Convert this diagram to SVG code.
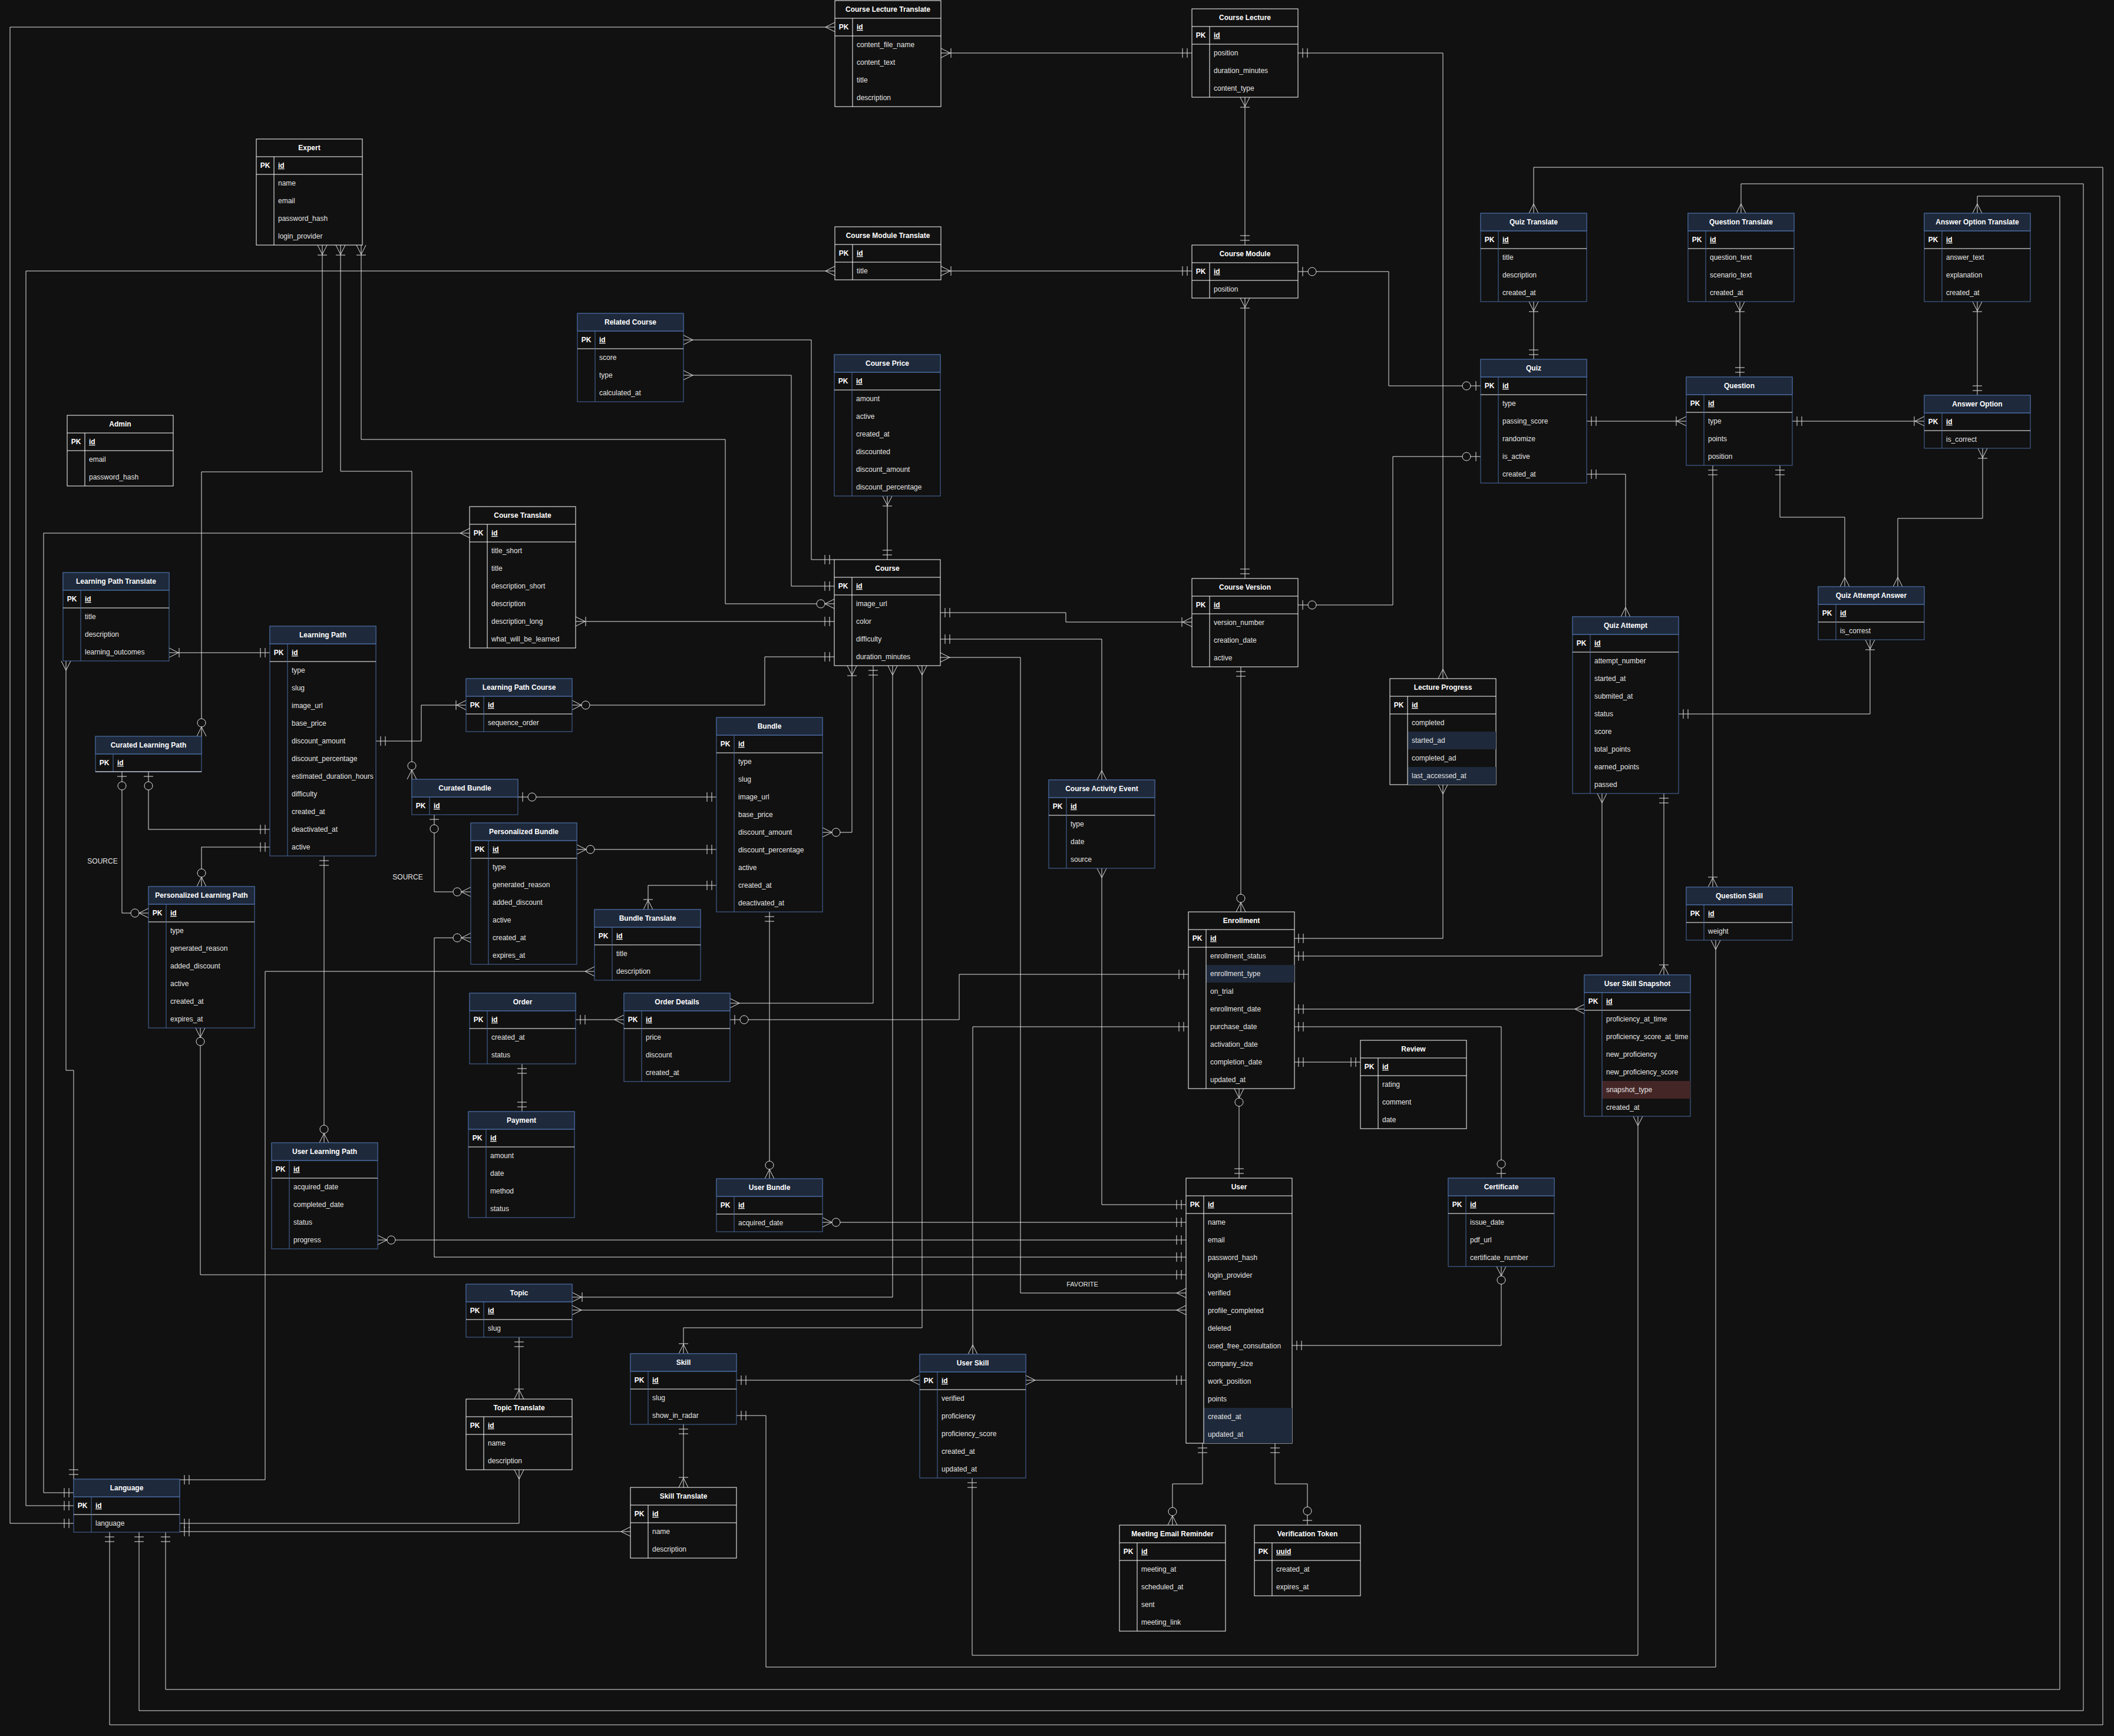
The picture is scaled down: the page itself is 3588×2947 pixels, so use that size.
<svg xmlns="http://www.w3.org/2000/svg" width="3588" height="2947" viewBox="0 0 3588 2947">
<style>
text{font-family:"Liberation Sans",Arial,Helvetica,sans-serif;font-size:12px}
.box{fill:#111111;stroke:#ffffff;stroke-width:1}
.b .box{stroke:#4a6ca3}
.hd{fill:none;stroke:none}
.b .hd{fill:#1e293b;stroke:#4a6ca3;stroke-width:1}
.hs,.ps,.cd{stroke:#ffffff;stroke-width:1}
.b .hs,.b .cd{stroke:#4a6ca3}
.t{font-weight:bold;fill:#ffffff;text-anchor:middle}
.pk{font-weight:bold;fill:#ffffff;text-anchor:middle}
.id{font-weight:bold;fill:#ffffff;text-decoration:underline}
.f{fill:#e4e4e4}
.hl{fill:#1e293b}
.hr{fill:#442626}
#connectors path{fill:none;stroke:#e2e2e2;stroke-width:1}
.mk{fill:none;stroke:#e2e2e2;stroke-width:1}
.mc{fill:#111111;stroke:#e2e2e2;stroke-width:1}
.lbl{fill:#e4e4e4;text-anchor:middle}
</style>
<defs>
<marker id="one" markerUnits="userSpaceOnUse" viewBox="-40 -20 50 40" markerWidth="50" markerHeight="40" refX="0" refY="0" orient="auto-start-reverse" overflow="visible"><path class="mk" d="M-8,-8V8M-16,-8V8"/></marker>
<marker id="many" markerUnits="userSpaceOnUse" viewBox="-40 -20 50 40" markerWidth="50" markerHeight="40" refX="0" refY="0" orient="auto-start-reverse" overflow="visible"><path class="mk" d="M0,-8L-16,0L0,8"/></marker>
<marker id="om" markerUnits="userSpaceOnUse" viewBox="-40 -20 50 40" markerWidth="50" markerHeight="40" refX="0" refY="0" orient="auto-start-reverse" overflow="visible"><path class="mk" d="M0,-8L-16,0L0,8M-17,-8V8"/></marker>
<marker id="zm" markerUnits="userSpaceOnUse" viewBox="-40 -20 50 40" markerWidth="50" markerHeight="40" refX="0" refY="0" orient="auto-start-reverse" overflow="visible"><path class="mk" d="M0,-8L-16,0L0,8"/><circle class="mc" cx="-23" cy="0" r="7"/></marker>
<marker id="zo" markerUnits="userSpaceOnUse" viewBox="-40 -20 50 40" markerWidth="50" markerHeight="40" refX="0" refY="0" orient="auto-start-reverse" overflow="visible"><path class="mk" d="M-8,-8V8"/><circle class="mc" cx="-24" cy="0" r="7"/></marker>
</defs>
<rect x="0" y="0" width="3588" height="2947" fill="#111111"/>

<g id="connectors">
<path d="M1597,90H2023" marker-start="url(#om)" marker-end="url(#one)"/>
<path d="M2113,165V416" marker-start="url(#om)" marker-end="url(#one)"/>
<path d="M1597,460H2023" marker-start="url(#om)" marker-end="url(#one)"/>
<path d="M2203,90H2449V1152" marker-start="url(#one)" marker-end="url(#many)"/>
<path d="M2203,461H2357V655H2513" marker-start="url(#zo)" marker-end="url(#zo)"/>
<path d="M2203,1027H2364V775H2513" marker-start="url(#zo)" marker-end="url(#zo)"/>
<path d="M2113,506V982" marker-start="url(#om)" marker-end="url(#one)"/>
<path d="M2106,1132V1548" marker-start="url(#one)" marker-end="url(#zm)"/>
<path d="M1596,1040H1809V1056H2023" marker-start="url(#one)" marker-end="url(#om)"/>
<path d="M1596,1085H1870V1324" marker-start="url(#one)" marker-end="url(#many)"/>
<path d="M1596,1116H1732V2195H2013" marker-start="url(#many)" marker-end="url(#many)"/>
<path d="M1870,1474V2045H2013" marker-start="url(#many)" marker-end="url(#one)"/>
<path d="M1506,842V950" marker-start="url(#om)" marker-end="url(#one)"/>
<path d="M1160,577H1377V950H1416" marker-start="url(#many)" marker-end="url(#one)"/>
<path d="M1160,637H1343V995H1416" marker-start="url(#many)" marker-end="url(#one)"/>
<path d="M613,416V746H1231V1025H1416" marker-start="url(#om)" marker-end="url(#zm)"/>
<path d="M578,416V800H699V1323" marker-start="url(#om)" marker-end="url(#zm)"/>
<path d="M547,416V801H342V1250" marker-start="url(#om)" marker-end="url(#zm)"/>
<path d="M125,2586H17V46H1417" marker-start="url(#one)" marker-end="url(#many)"/>
<path d="M125,2556H44V460H1417" marker-start="url(#one)" marker-end="url(#many)"/>
<path d="M125,2534H74V905H797" marker-start="url(#one)" marker-end="url(#many)"/>
<path d="M112,1122V1817H125V2511" marker-start="url(#many)" marker-end="url(#one)"/>
<path d="M305,2512H450V1649H1009" marker-start="url(#one)" marker-end="url(#many)"/>
<path d="M305,2586H881V2495" marker-start="url(#one)" marker-end="url(#many)"/>
<path d="M305,2600H1070" marker-start="url(#one)" marker-end="url(#many)"/>
<path d="M281,2601V2868H3496V333H3356V362" marker-start="url(#one)" marker-end="url(#many)"/>
<path d="M236,2601V2904H3536V312H2955V362" marker-start="url(#one)" marker-end="url(#many)"/>
<path d="M186,2601V2928H3569V284H2603V362" marker-start="url(#one)" marker-end="url(#many)"/>
<path d="M287,1108H458" marker-start="url(#om)" marker-end="url(#one)"/>
<path d="M638,1258H715V1197H791" marker-start="url(#one)" marker-end="url(#om)"/>
<path d="M971,1197H1298V1115H1416" marker-start="url(#zm)" marker-end="url(#one)"/>
<path d="M977,1055H1416" marker-start="url(#om)" marker-end="url(#one)"/>
<path d="M252,1310V1408H458" marker-start="url(#zo)" marker-end="url(#one)"/>
<path d="M207,1310V1550H252" marker-start="url(#zo)" marker-end="url(#zm)"/>
<path d="M458,1438H342V1505" marker-start="url(#one)" marker-end="url(#zm)"/>
<path d="M550,1453V1940" marker-start="url(#one)" marker-end="url(#zm)"/>
<path d="M641,2105H2013" marker-start="url(#zm)" marker-end="url(#one)"/>
<path d="M799,1592H737V2134H2013" marker-start="url(#zm)" marker-end="url(#one)"/>
<path d="M737,1383V1514H799" marker-start="url(#zo)" marker-end="url(#zm)"/>
<path d="M340,1745V2164H2013" marker-start="url(#zm)" marker-end="url(#one)"/>
<path d="M1306,1548V2001" marker-start="url(#one)" marker-end="url(#zm)"/>
<path d="M1396,2075H2013" marker-start="url(#zm)" marker-end="url(#one)"/>
<path d="M879,1353H1216" marker-start="url(#zo)" marker-end="url(#one)"/>
<path d="M979,1442H1216" marker-start="url(#zm)" marker-end="url(#one)"/>
<path d="M1100,1544V1503H1216" marker-start="url(#om)" marker-end="url(#one)"/>
<path d="M1396,1413H1446V1130" marker-start="url(#zm)" marker-end="url(#om)"/>
<path d="M1482,1130V1703H1239" marker-start="url(#one)" marker-end="url(#many)"/>
<path d="M1515,1130V2202H971" marker-start="url(#many)" marker-end="url(#om)"/>
<path d="M1565,1130V2254H1160V2298" marker-start="url(#many)" marker-end="url(#om)"/>
<path d="M971,2224H2013" marker-start="url(#many)" marker-end="url(#many)"/>
<path d="M1239,1731H1628V1654H2017" marker-start="url(#zo)" marker-end="url(#one)"/>
<path d="M2017,1743H1651V2299" marker-start="url(#one)" marker-end="url(#many)"/>
<path d="M977,1731H1059" marker-start="url(#one)" marker-end="url(#many)"/>
<path d="M886,1806V1887" marker-start="url(#one)" marker-end="url(#one)"/>
<path d="M881,2270V2375" marker-start="url(#one)" marker-end="url(#om)"/>
<path d="M1160,2418V2525" marker-start="url(#one)" marker-end="url(#om)"/>
<path d="M1250,2343H1561" marker-start="url(#one)" marker-end="url(#many)"/>
<path d="M1741,2343H2013" marker-start="url(#many)" marker-end="url(#one)"/>
<path d="M1250,2403H1300V2830H2912V1596" marker-start="url(#one)" marker-end="url(#many)"/>
<path d="M1650,2509V2810H2780V1895" marker-start="url(#one)" marker-end="url(#many)"/>
<path d="M2907,790V1506" marker-start="url(#one)" marker-end="url(#om)"/>
<path d="M3021,790V878H3131V996" marker-start="url(#one)" marker-end="url(#many)"/>
<path d="M3365,761V880H3221V996" marker-start="url(#om)" marker-end="url(#many)"/>
<path d="M3174,1086V1212H2849" marker-start="url(#om)" marker-end="url(#one)"/>
<path d="M2693,715H2862" marker-start="url(#one)" marker-end="url(#om)"/>
<path d="M3042,715H3266" marker-start="url(#one)" marker-end="url(#om)"/>
<path d="M2603,512V610" marker-start="url(#om)" marker-end="url(#one)"/>
<path d="M2953,512V640" marker-start="url(#om)" marker-end="url(#one)"/>
<path d="M3356,512V671" marker-start="url(#om)" marker-end="url(#one)"/>
<path d="M2693,805H2759V1047" marker-start="url(#one)" marker-end="url(#many)"/>
<path d="M2196,1593H2449V1332" marker-start="url(#one)" marker-end="url(#many)"/>
<path d="M2196,1623H2719V1347" marker-start="url(#one)" marker-end="url(#many)"/>
<path d="M2196,1713H2689" marker-start="url(#one)" marker-end="url(#many)"/>
<path d="M2196,1743H2548V2000" marker-start="url(#one)" marker-end="url(#zo)"/>
<path d="M2196,1803H2309" marker-start="url(#one)" marker-end="url(#one)"/>
<path d="M2103,1848V2000" marker-start="url(#zm)" marker-end="url(#one)"/>
<path d="M2824,1347V1655" marker-start="url(#one)" marker-end="url(#om)"/>
<path d="M2193,2284H2548V2150" marker-start="url(#one)" marker-end="url(#zm)"/>
<path d="M2041,2450V2519H1990V2589" marker-start="url(#one)" marker-end="url(#zm)"/>
<path d="M2164,2450V2519H2219V2589" marker-start="url(#one)" marker-end="url(#zo)"/>
<text class="lbl" x="174" y="1466">SOURCE</text>
<text class="lbl" x="692" y="1493">SOURCE</text>
<text class="lbl" x="1837" y="2184" style="font-size:11px">FAVORITE</text>
</g>

<g id="course-lecture-translate" class="w" transform="translate(1417,1)">
<rect class="box" width="180" height="180"/><rect class="hd" width="180" height="30"/>
<line class="hs" x1="0" y1="30" x2="180" y2="30"/><line class="ps" x1="0" y1="60" x2="180" y2="60"/><line class="cd" x1="30" y1="30" x2="30" y2="180"/>
<text class="t" x="90" y="19">Course Lecture Translate</text><text class="pk" x="15" y="49">PK</text><text class="id" x="37" y="49">id</text>
<text class="f" x="37" y="79">content_file_name</text><text class="f" x="37" y="109">content_text</text><text class="f" x="37" y="139">title</text><text class="f" x="37" y="169">description</text>
</g>

<g id="course-lecture" class="w" transform="translate(2023,15)">
<rect class="box" width="180" height="150"/><rect class="hd" width="180" height="30"/>
<line class="hs" x1="0" y1="30" x2="180" y2="30"/><line class="ps" x1="0" y1="60" x2="180" y2="60"/><line class="cd" x1="30" y1="30" x2="30" y2="150"/>
<text class="t" x="90" y="19">Course Lecture</text><text class="pk" x="15" y="49">PK</text><text class="id" x="37" y="49">id</text>
<text class="f" x="37" y="79">position</text><text class="f" x="37" y="109">duration_minutes</text><text class="f" x="37" y="139">content_type</text>
</g>

<g id="course-module-translate" class="w" transform="translate(1417,385)">
<rect class="box" width="180" height="90"/><rect class="hd" width="180" height="30"/>
<line class="hs" x1="0" y1="30" x2="180" y2="30"/><line class="ps" x1="0" y1="60" x2="180" y2="60"/><line class="cd" x1="30" y1="30" x2="30" y2="90"/>
<text class="t" x="90" y="19">Course Module Translate</text><text class="pk" x="15" y="49">PK</text><text class="id" x="37" y="49">id</text>
<text class="f" x="37" y="79">title</text>
</g>

<g id="course-module" class="w" transform="translate(2023,416)">
<rect class="box" width="180" height="90"/><rect class="hd" width="180" height="30"/>
<line class="hs" x1="0" y1="30" x2="180" y2="30"/><line class="ps" x1="0" y1="60" x2="180" y2="60"/><line class="cd" x1="30" y1="30" x2="30" y2="90"/>
<text class="t" x="90" y="19">Course Module</text><text class="pk" x="15" y="49">PK</text><text class="id" x="37" y="49">id</text>
<text class="f" x="37" y="79">position</text>
</g>

<g id="expert" class="w" transform="translate(435,236)">
<rect class="box" width="180" height="180"/><rect class="hd" width="180" height="30"/>
<line class="hs" x1="0" y1="30" x2="180" y2="30"/><line class="ps" x1="0" y1="60" x2="180" y2="60"/><line class="cd" x1="30" y1="30" x2="30" y2="180"/>
<text class="t" x="90" y="19">Expert</text><text class="pk" x="15" y="49">PK</text><text class="id" x="37" y="49">id</text>
<text class="f" x="37" y="79">name</text><text class="f" x="37" y="109">email</text><text class="f" x="37" y="139">password_hash</text><text class="f" x="37" y="169">login_provider</text>
</g>

<g id="admin" class="w" transform="translate(114,705)">
<rect class="box" width="180" height="120"/><rect class="hd" width="180" height="30"/>
<line class="hs" x1="0" y1="30" x2="180" y2="30"/><line class="ps" x1="0" y1="60" x2="180" y2="60"/><line class="cd" x1="30" y1="30" x2="30" y2="120"/>
<text class="t" x="90" y="19">Admin</text><text class="pk" x="15" y="49">PK</text><text class="id" x="37" y="49">id</text>
<text class="f" x="37" y="79">email</text><text class="f" x="37" y="109">password_hash</text>
</g>

<g id="related-course" class="b" transform="translate(980,532)">
<rect class="box" width="180" height="150"/><rect class="hd" width="180" height="30"/>
<line class="hs" x1="0" y1="30" x2="180" y2="30"/><line class="ps" x1="0" y1="60" x2="180" y2="60"/><line class="cd" x1="30" y1="30" x2="30" y2="150"/>
<text class="t" x="90" y="19">Related Course</text><text class="pk" x="15" y="49">PK</text><text class="id" x="37" y="49">id</text>
<text class="f" x="37" y="79">score</text><text class="f" x="37" y="109">type</text><text class="f" x="37" y="139">calculated_at</text>
</g>

<g id="course-price" class="b" transform="translate(1416,602)">
<rect class="box" width="180" height="240"/><rect class="hd" width="180" height="30"/>
<line class="hs" x1="0" y1="30" x2="180" y2="30"/><line class="ps" x1="0" y1="60" x2="180" y2="60"/><line class="cd" x1="30" y1="30" x2="30" y2="240"/>
<text class="t" x="90" y="19">Course Price</text><text class="pk" x="15" y="49">PK</text><text class="id" x="37" y="49">id</text>
<text class="f" x="37" y="79">amount</text><text class="f" x="37" y="109">active</text><text class="f" x="37" y="139">created_at</text><text class="f" x="37" y="169">discounted</text><text class="f" x="37" y="199">discount_amount</text><text class="f" x="37" y="229">discount_percentage</text>
</g>

<g id="course" class="w" transform="translate(1416,950)">
<rect class="box" width="180" height="180"/><rect class="hd" width="180" height="30"/>
<line class="hs" x1="0" y1="30" x2="180" y2="30"/><line class="ps" x1="0" y1="60" x2="180" y2="60"/><line class="cd" x1="30" y1="30" x2="30" y2="180"/>
<text class="t" x="90" y="19">Course</text><text class="pk" x="15" y="49">PK</text><text class="id" x="37" y="49">id</text>
<text class="f" x="37" y="79">image_url</text><text class="f" x="37" y="109">color</text><text class="f" x="37" y="139">difficulty</text><text class="f" x="37" y="169">duration_minutes</text>
</g>

<g id="course-translate" class="w" transform="translate(797,860)">
<rect class="box" width="180" height="240"/><rect class="hd" width="180" height="30"/>
<line class="hs" x1="0" y1="30" x2="180" y2="30"/><line class="ps" x1="0" y1="60" x2="180" y2="60"/><line class="cd" x1="30" y1="30" x2="30" y2="240"/>
<text class="t" x="90" y="19">Course Translate</text><text class="pk" x="15" y="49">PK</text><text class="id" x="37" y="49">id</text>
<text class="f" x="37" y="79">title_short</text><text class="f" x="37" y="109">title</text><text class="f" x="37" y="139">description_short</text><text class="f" x="37" y="169">description</text><text class="f" x="37" y="199">description_long</text><text class="f" x="37" y="229">what_will_be_learned</text>
</g>

<g id="learning-path-translate" class="b" transform="translate(107,972)">
<rect class="box" width="180" height="150"/><rect class="hd" width="180" height="30"/>
<line class="hs" x1="0" y1="30" x2="180" y2="30"/><line class="ps" x1="0" y1="60" x2="180" y2="60"/><line class="cd" x1="30" y1="30" x2="30" y2="150"/>
<text class="t" x="90" y="19">Learning Path Translate</text><text class="pk" x="15" y="49">PK</text><text class="id" x="37" y="49">id</text>
<text class="f" x="37" y="79">title</text><text class="f" x="37" y="109">description</text><text class="f" x="37" y="139">learning_outcomes</text>
</g>

<g id="learning-path" class="b" transform="translate(458,1063)">
<rect class="box" width="180" height="390"/><rect class="hd" width="180" height="30"/>
<line class="hs" x1="0" y1="30" x2="180" y2="30"/><line class="ps" x1="0" y1="60" x2="180" y2="60"/><line class="cd" x1="30" y1="30" x2="30" y2="390"/>
<text class="t" x="90" y="19">Learning Path</text><text class="pk" x="15" y="49">PK</text><text class="id" x="37" y="49">id</text>
<text class="f" x="37" y="79">type</text><text class="f" x="37" y="109">slug</text><text class="f" x="37" y="139">image_url</text><text class="f" x="37" y="169">base_price</text><text class="f" x="37" y="199">discount_amount</text><text class="f" x="37" y="229">discount_percentage</text><text class="f" x="37" y="259">estimated_duration_hours</text><text class="f" x="37" y="289">difficulty</text><text class="f" x="37" y="319">created_at</text><text class="f" x="37" y="349">deactivated_at</text><text class="f" x="37" y="379">active</text>
</g>

<g id="learning-path-course" class="b" transform="translate(791,1152)">
<rect class="box" width="180" height="90"/><rect class="hd" width="180" height="30"/>
<line class="hs" x1="0" y1="30" x2="180" y2="30"/><line class="ps" x1="0" y1="60" x2="180" y2="60"/><line class="cd" x1="30" y1="30" x2="30" y2="90"/>
<text class="t" x="90" y="19">Learning Path Course</text><text class="pk" x="15" y="49">PK</text><text class="id" x="37" y="49">id</text>
<text class="f" x="37" y="79">sequence_order</text>
</g>

<g id="curated-learning-path" class="b" transform="translate(162,1250)">
<rect class="box" width="180" height="60"/><rect class="hd" width="180" height="30"/>
<line class="hs" x1="0" y1="30" x2="180" y2="30"/><line class="cd" x1="30" y1="30" x2="30" y2="60"/><line class="ps" x1="0" y1="60" x2="180" y2="60"/>
<text class="t" x="90" y="19">Curated Learning Path</text><text class="pk" x="15" y="49">PK</text><text class="id" x="37" y="49">id</text>
</g>

<g id="curated-bundle" class="b" transform="translate(699,1323)">
<rect class="box" width="180" height="60"/><rect class="hd" width="180" height="30"/>
<line class="hs" x1="0" y1="30" x2="180" y2="30"/><line class="cd" x1="30" y1="30" x2="30" y2="60"/>
<text class="t" x="90" y="19">Curated Bundle</text><text class="pk" x="15" y="49">PK</text><text class="id" x="37" y="49">id</text>
</g>

<g id="personalized-bundle" class="b" transform="translate(799,1397)">
<rect class="box" width="180" height="240"/><rect class="hd" width="180" height="30"/>
<line class="hs" x1="0" y1="30" x2="180" y2="30"/><line class="ps" x1="0" y1="60" x2="180" y2="60"/><line class="cd" x1="30" y1="30" x2="30" y2="240"/>
<text class="t" x="90" y="19">Personalized Bundle</text><text class="pk" x="15" y="49">PK</text><text class="id" x="37" y="49">id</text>
<text class="f" x="37" y="79">type</text><text class="f" x="37" y="109">generated_reason</text><text class="f" x="37" y="139">added_discount</text><text class="f" x="37" y="169">active</text><text class="f" x="37" y="199">created_at</text><text class="f" x="37" y="229">expires_at</text>
</g>

<g id="personalized-learning-path" class="b" transform="translate(252,1505)">
<rect class="box" width="180" height="240"/><rect class="hd" width="180" height="30"/>
<line class="hs" x1="0" y1="30" x2="180" y2="30"/><line class="ps" x1="0" y1="60" x2="180" y2="60"/><line class="cd" x1="30" y1="30" x2="30" y2="240"/>
<text class="t" x="90" y="19">Personalized Learning Path</text><text class="pk" x="15" y="49">PK</text><text class="id" x="37" y="49">id</text>
<text class="f" x="37" y="79">type</text><text class="f" x="37" y="109">generated_reason</text><text class="f" x="37" y="139">added_discount</text><text class="f" x="37" y="169">active</text><text class="f" x="37" y="199">created_at</text><text class="f" x="37" y="229">expires_at</text>
</g>

<g id="bundle" class="b" transform="translate(1216,1218)">
<rect class="box" width="180" height="330"/><rect class="hd" width="180" height="30"/>
<line class="hs" x1="0" y1="30" x2="180" y2="30"/><line class="ps" x1="0" y1="60" x2="180" y2="60"/><line class="cd" x1="30" y1="30" x2="30" y2="330"/>
<text class="t" x="90" y="19">Bundle</text><text class="pk" x="15" y="49">PK</text><text class="id" x="37" y="49">id</text>
<text class="f" x="37" y="79">type</text><text class="f" x="37" y="109">slug</text><text class="f" x="37" y="139">image_url</text><text class="f" x="37" y="169">base_price</text><text class="f" x="37" y="199">discount_amount</text><text class="f" x="37" y="229">discount_percentage</text><text class="f" x="37" y="259">active</text><text class="f" x="37" y="289">created_at</text><text class="f" x="37" y="319">deactivated_at</text>
</g>

<g id="bundle-translate" class="b" transform="translate(1009,1544)">
<rect class="box" width="180" height="120"/><rect class="hd" width="180" height="30"/>
<line class="hs" x1="0" y1="30" x2="180" y2="30"/><line class="ps" x1="0" y1="60" x2="180" y2="60"/><line class="cd" x1="30" y1="30" x2="30" y2="120"/>
<text class="t" x="90" y="19">Bundle Translate</text><text class="pk" x="15" y="49">PK</text><text class="id" x="37" y="49">id</text>
<text class="f" x="37" y="79">title</text><text class="f" x="37" y="109">description</text>
</g>

<g id="order" class="b" transform="translate(797,1686)">
<rect class="box" width="180" height="120"/><rect class="hd" width="180" height="30"/>
<line class="hs" x1="0" y1="30" x2="180" y2="30"/><line class="ps" x1="0" y1="60" x2="180" y2="60"/><line class="cd" x1="30" y1="30" x2="30" y2="120"/>
<text class="t" x="90" y="19">Order</text><text class="pk" x="15" y="49">PK</text><text class="id" x="37" y="49">id</text>
<text class="f" x="37" y="79">created_at</text><text class="f" x="37" y="109">status</text>
</g>

<g id="order-details" class="b" transform="translate(1059,1686)">
<rect class="box" width="180" height="150"/><rect class="hd" width="180" height="30"/>
<line class="hs" x1="0" y1="30" x2="180" y2="30"/><line class="ps" x1="0" y1="60" x2="180" y2="60"/><line class="cd" x1="30" y1="30" x2="30" y2="150"/>
<text class="t" x="90" y="19">Order Details</text><text class="pk" x="15" y="49">PK</text><text class="id" x="37" y="49">id</text>
<text class="f" x="37" y="79">price</text><text class="f" x="37" y="109">discount</text><text class="f" x="37" y="139">created_at</text>
</g>

<g id="payment" class="b" transform="translate(795,1887)">
<rect class="box" width="180" height="180"/><rect class="hd" width="180" height="30"/>
<line class="hs" x1="0" y1="30" x2="180" y2="30"/><line class="ps" x1="0" y1="60" x2="180" y2="60"/><line class="cd" x1="30" y1="30" x2="30" y2="180"/>
<text class="t" x="90" y="19">Payment</text><text class="pk" x="15" y="49">PK</text><text class="id" x="37" y="49">id</text>
<text class="f" x="37" y="79">amount</text><text class="f" x="37" y="109">date</text><text class="f" x="37" y="139">method</text><text class="f" x="37" y="169">status</text>
</g>

<g id="user-learning-path" class="b" transform="translate(461,1940)">
<rect class="box" width="180" height="180"/><rect class="hd" width="180" height="30"/>
<line class="hs" x1="0" y1="30" x2="180" y2="30"/><line class="ps" x1="0" y1="60" x2="180" y2="60"/><line class="cd" x1="30" y1="30" x2="30" y2="180"/>
<text class="t" x="90" y="19">User Learning Path</text><text class="pk" x="15" y="49">PK</text><text class="id" x="37" y="49">id</text>
<text class="f" x="37" y="79">acquired_date</text><text class="f" x="37" y="109">completed_date</text><text class="f" x="37" y="139">status</text><text class="f" x="37" y="169">progress</text>
</g>

<g id="topic" class="b" transform="translate(791,2180)">
<rect class="box" width="180" height="90"/><rect class="hd" width="180" height="30"/>
<line class="hs" x1="0" y1="30" x2="180" y2="30"/><line class="ps" x1="0" y1="60" x2="180" y2="60"/><line class="cd" x1="30" y1="30" x2="30" y2="90"/>
<text class="t" x="90" y="19">Topic</text><text class="pk" x="15" y="49">PK</text><text class="id" x="37" y="49">id</text>
<text class="f" x="37" y="79">slug</text>
</g>

<g id="topic-translate" class="w" transform="translate(791,2375)">
<rect class="box" width="180" height="120"/><rect class="hd" width="180" height="30"/>
<line class="hs" x1="0" y1="30" x2="180" y2="30"/><line class="ps" x1="0" y1="60" x2="180" y2="60"/><line class="cd" x1="30" y1="30" x2="30" y2="120"/>
<text class="t" x="90" y="19">Topic Translate</text><text class="pk" x="15" y="49">PK</text><text class="id" x="37" y="49">id</text>
<text class="f" x="37" y="79">name</text><text class="f" x="37" y="109">description</text>
</g>

<g id="skill" class="b" transform="translate(1070,2298)">
<rect class="box" width="180" height="120"/><rect class="hd" width="180" height="30"/>
<line class="hs" x1="0" y1="30" x2="180" y2="30"/><line class="ps" x1="0" y1="60" x2="180" y2="60"/><line class="cd" x1="30" y1="30" x2="30" y2="120"/>
<text class="t" x="90" y="19">Skill</text><text class="pk" x="15" y="49">PK</text><text class="id" x="37" y="49">id</text>
<text class="f" x="37" y="79">slug</text><text class="f" x="37" y="109">show_in_radar</text>
</g>

<g id="skill-translate" class="w" transform="translate(1070,2525)">
<rect class="box" width="180" height="120"/><rect class="hd" width="180" height="30"/>
<line class="hs" x1="0" y1="30" x2="180" y2="30"/><line class="ps" x1="0" y1="60" x2="180" y2="60"/><line class="cd" x1="30" y1="30" x2="30" y2="120"/>
<text class="t" x="90" y="19">Skill Translate</text><text class="pk" x="15" y="49">PK</text><text class="id" x="37" y="49">id</text>
<text class="f" x="37" y="79">name</text><text class="f" x="37" y="109">description</text>
</g>

<g id="language" class="b" transform="translate(125,2511)">
<rect class="box" width="180" height="90"/><rect class="hd" width="180" height="30"/>
<line class="hs" x1="0" y1="30" x2="180" y2="30"/><line class="ps" x1="0" y1="60" x2="180" y2="60"/><line class="cd" x1="30" y1="30" x2="30" y2="90"/>
<text class="t" x="90" y="19">Language</text><text class="pk" x="15" y="49">PK</text><text class="id" x="37" y="49">id</text>
<text class="f" x="37" y="79">language</text>
</g>

<g id="course-version" class="w" transform="translate(2023,982)">
<rect class="box" width="180" height="150"/><rect class="hd" width="180" height="30"/>
<line class="hs" x1="0" y1="30" x2="180" y2="30"/><line class="ps" x1="0" y1="60" x2="180" y2="60"/><line class="cd" x1="30" y1="30" x2="30" y2="150"/>
<text class="t" x="90" y="19">Course Version</text><text class="pk" x="15" y="49">PK</text><text class="id" x="37" y="49">id</text>
<text class="f" x="37" y="79">version_number</text><text class="f" x="37" y="109">creation_date</text><text class="f" x="37" y="139">active</text>
</g>

<g id="course-activity-event" class="b" transform="translate(1780,1324)">
<rect class="box" width="180" height="150"/><rect class="hd" width="180" height="30"/>
<line class="hs" x1="0" y1="30" x2="180" y2="30"/><line class="ps" x1="0" y1="60" x2="180" y2="60"/><line class="cd" x1="30" y1="30" x2="30" y2="150"/>
<text class="t" x="90" y="19">Course Activity Event</text><text class="pk" x="15" y="49">PK</text><text class="id" x="37" y="49">id</text>
<text class="f" x="37" y="79">type</text><text class="f" x="37" y="109">date</text><text class="f" x="37" y="139">source</text>
</g>

<g id="enrollment" class="w" transform="translate(2017,1548)">
<rect class="box" width="180" height="300"/><rect class="hd" width="180" height="30"/>
<rect class="hl" x="30" y="90" width="150" height="30"/>
<line class="hs" x1="0" y1="30" x2="180" y2="30"/><line class="ps" x1="0" y1="60" x2="180" y2="60"/><line class="cd" x1="30" y1="30" x2="30" y2="300"/>
<text class="t" x="90" y="19">Enrollment</text><text class="pk" x="15" y="49">PK</text><text class="id" x="37" y="49">id</text>
<text class="f" x="37" y="79">enrollment_status</text><text class="f" x="37" y="109">enrollment_type</text><text class="f" x="37" y="139">on_trial</text><text class="f" x="37" y="169">enrollment_date</text><text class="f" x="37" y="199">purchase_date</text><text class="f" x="37" y="229">activation_date</text><text class="f" x="37" y="259">completion_date</text><text class="f" x="37" y="289">updated_at</text>
</g>

<g id="user" class="w" transform="translate(2013,2000)">
<rect class="box" width="180" height="450"/><rect class="hd" width="180" height="30"/>
<rect class="hl" x="30" y="390" width="150" height="60"/>
<line class="hs" x1="0" y1="30" x2="180" y2="30"/><line class="ps" x1="0" y1="60" x2="180" y2="60"/><line class="cd" x1="30" y1="30" x2="30" y2="450"/>
<text class="t" x="90" y="19">User</text><text class="pk" x="15" y="49">PK</text><text class="id" x="37" y="49">id</text>
<text class="f" x="37" y="79">name</text><text class="f" x="37" y="109">email</text><text class="f" x="37" y="139">password_hash</text><text class="f" x="37" y="169">login_provider</text><text class="f" x="37" y="199">verified</text><text class="f" x="37" y="229">profile_completed</text><text class="f" x="37" y="259">deleted</text><text class="f" x="37" y="289">used_free_consultation</text><text class="f" x="37" y="319">company_size</text><text class="f" x="37" y="349">work_position</text><text class="f" x="37" y="379">points</text><text class="f" x="37" y="409">created_at</text><text class="f" x="37" y="439">updated_at</text>
</g>

<g id="user-bundle" class="b" transform="translate(1216,2001)">
<rect class="box" width="180" height="90"/><rect class="hd" width="180" height="30"/>
<line class="hs" x1="0" y1="30" x2="180" y2="30"/><line class="ps" x1="0" y1="60" x2="180" y2="60"/><line class="cd" x1="30" y1="30" x2="30" y2="90"/>
<text class="t" x="90" y="19">User Bundle</text><text class="pk" x="15" y="49">PK</text><text class="id" x="37" y="49">id</text>
<text class="f" x="37" y="79">acquired_date</text>
</g>

<g id="user-skill" class="b" transform="translate(1561,2299)">
<rect class="box" width="180" height="210"/><rect class="hd" width="180" height="30"/>
<line class="hs" x1="0" y1="30" x2="180" y2="30"/><line class="ps" x1="0" y1="60" x2="180" y2="60"/><line class="cd" x1="30" y1="30" x2="30" y2="210"/>
<text class="t" x="90" y="19">User Skill</text><text class="pk" x="15" y="49">PK</text><text class="id" x="37" y="49">id</text>
<text class="f" x="37" y="79">verified</text><text class="f" x="37" y="109">proficiency</text><text class="f" x="37" y="139">proficiency_score</text><text class="f" x="37" y="169">created_at</text><text class="f" x="37" y="199">updated_at</text>
</g>

<g id="meeting-email-reminder" class="w" transform="translate(1900,2589)">
<rect class="box" width="180" height="180"/><rect class="hd" width="180" height="30"/>
<line class="hs" x1="0" y1="30" x2="180" y2="30"/><line class="ps" x1="0" y1="60" x2="180" y2="60"/><line class="cd" x1="30" y1="30" x2="30" y2="180"/>
<text class="t" x="90" y="19">Meeting Email Reminder</text><text class="pk" x="15" y="49">PK</text><text class="id" x="37" y="49">id</text>
<text class="f" x="37" y="79">meeting_at</text><text class="f" x="37" y="109">scheduled_at</text><text class="f" x="37" y="139">sent</text><text class="f" x="37" y="169">meeting_link</text>
</g>

<g id="verification-token" class="w" transform="translate(2129,2589)">
<rect class="box" width="180" height="120"/><rect class="hd" width="180" height="30"/>
<line class="hs" x1="0" y1="30" x2="180" y2="30"/><line class="ps" x1="0" y1="60" x2="180" y2="60"/><line class="cd" x1="30" y1="30" x2="30" y2="120"/>
<text class="t" x="90" y="19">Verification Token</text><text class="pk" x="15" y="49">PK</text><text class="id" x="37" y="49">uuid</text>
<text class="f" x="37" y="79">created_at</text><text class="f" x="37" y="109">expires_at</text>
</g>

<g id="review" class="w" transform="translate(2309,1766)">
<rect class="box" width="180" height="150"/><rect class="hd" width="180" height="30"/>
<line class="hs" x1="0" y1="30" x2="180" y2="30"/><line class="ps" x1="0" y1="60" x2="180" y2="60"/><line class="cd" x1="30" y1="30" x2="30" y2="150"/>
<text class="t" x="90" y="19">Review</text><text class="pk" x="15" y="49">PK</text><text class="id" x="37" y="49">id</text>
<text class="f" x="37" y="79">rating</text><text class="f" x="37" y="109">comment</text><text class="f" x="37" y="139">date</text>
</g>

<g id="lecture-progress" class="w" transform="translate(2359,1152)">
<rect class="box" width="180" height="180"/><rect class="hd" width="180" height="30"/>
<rect class="hl" x="30" y="90" width="150" height="30"/><rect class="hl" x="30" y="150" width="150" height="30"/>
<line class="hs" x1="0" y1="30" x2="180" y2="30"/><line class="ps" x1="0" y1="60" x2="180" y2="60"/><line class="cd" x1="30" y1="30" x2="30" y2="180"/>
<text class="t" x="90" y="19">Lecture Progress</text><text class="pk" x="15" y="49">PK</text><text class="id" x="37" y="49">id</text>
<text class="f" x="37" y="79">completed</text><text class="f" x="37" y="109">started_ad</text><text class="f" x="37" y="139">completed_ad</text><text class="f" x="37" y="169">last_accessed_at</text>
</g>

<g id="quiz-translate" class="b" transform="translate(2513,362)">
<rect class="box" width="180" height="150"/><rect class="hd" width="180" height="30"/>
<line class="hs" x1="0" y1="30" x2="180" y2="30"/><line class="ps" x1="0" y1="60" x2="180" y2="60"/><line class="cd" x1="30" y1="30" x2="30" y2="150"/>
<text class="t" x="90" y="19">Quiz Translate</text><text class="pk" x="15" y="49">PK</text><text class="id" x="37" y="49">id</text>
<text class="f" x="37" y="79">title</text><text class="f" x="37" y="109">description</text><text class="f" x="37" y="139">created_at</text>
</g>

<g id="question-translate" class="b" transform="translate(2865,362)">
<rect class="box" width="180" height="150"/><rect class="hd" width="180" height="30"/>
<line class="hs" x1="0" y1="30" x2="180" y2="30"/><line class="ps" x1="0" y1="60" x2="180" y2="60"/><line class="cd" x1="30" y1="30" x2="30" y2="150"/>
<text class="t" x="90" y="19">Question Translate</text><text class="pk" x="15" y="49">PK</text><text class="id" x="37" y="49">id</text>
<text class="f" x="37" y="79">question_text</text><text class="f" x="37" y="109">scenario_text</text><text class="f" x="37" y="139">created_at</text>
</g>

<g id="answer-option-translate" class="b" transform="translate(3266,362)">
<rect class="box" width="180" height="150"/><rect class="hd" width="180" height="30"/>
<line class="hs" x1="0" y1="30" x2="180" y2="30"/><line class="ps" x1="0" y1="60" x2="180" y2="60"/><line class="cd" x1="30" y1="30" x2="30" y2="150"/>
<text class="t" x="90" y="19">Answer Option Translate</text><text class="pk" x="15" y="49">PK</text><text class="id" x="37" y="49">id</text>
<text class="f" x="37" y="79">answer_text</text><text class="f" x="37" y="109">explanation</text><text class="f" x="37" y="139">created_at</text>
</g>

<g id="quiz" class="b" transform="translate(2513,610)">
<rect class="box" width="180" height="210"/><rect class="hd" width="180" height="30"/>
<line class="hs" x1="0" y1="30" x2="180" y2="30"/><line class="ps" x1="0" y1="60" x2="180" y2="60"/><line class="cd" x1="30" y1="30" x2="30" y2="210"/>
<text class="t" x="90" y="19">Quiz</text><text class="pk" x="15" y="49">PK</text><text class="id" x="37" y="49">id</text>
<text class="f" x="37" y="79">type</text><text class="f" x="37" y="109">passing_score</text><text class="f" x="37" y="139">randomize</text><text class="f" x="37" y="169">is_active</text><text class="f" x="37" y="199">created_at</text>
</g>

<g id="question" class="b" transform="translate(2862,640)">
<rect class="box" width="180" height="150"/><rect class="hd" width="180" height="30"/>
<line class="hs" x1="0" y1="30" x2="180" y2="30"/><line class="ps" x1="0" y1="60" x2="180" y2="60"/><line class="cd" x1="30" y1="30" x2="30" y2="150"/>
<text class="t" x="90" y="19">Question</text><text class="pk" x="15" y="49">PK</text><text class="id" x="37" y="49">id</text>
<text class="f" x="37" y="79">type</text><text class="f" x="37" y="109">points</text><text class="f" x="37" y="139">position</text>
</g>

<g id="answer-option" class="b" transform="translate(3266,671)">
<rect class="box" width="180" height="90"/><rect class="hd" width="180" height="30"/>
<line class="hs" x1="0" y1="30" x2="180" y2="30"/><line class="ps" x1="0" y1="60" x2="180" y2="60"/><line class="cd" x1="30" y1="30" x2="30" y2="90"/>
<text class="t" x="90" y="19">Answer Option</text><text class="pk" x="15" y="49">PK</text><text class="id" x="37" y="49">id</text>
<text class="f" x="37" y="79">is_correct</text>
</g>

<g id="quiz-attempt-answer" class="b" transform="translate(3086,996)">
<rect class="box" width="180" height="90"/><rect class="hd" width="180" height="30"/>
<line class="hs" x1="0" y1="30" x2="180" y2="30"/><line class="ps" x1="0" y1="60" x2="180" y2="60"/><line class="cd" x1="30" y1="30" x2="30" y2="90"/>
<text class="t" x="90" y="19">Quiz Attempt Answer</text><text class="pk" x="15" y="49">PK</text><text class="id" x="37" y="49">id</text>
<text class="f" x="37" y="79">is_correst</text>
</g>

<g id="quiz-attempt" class="b" transform="translate(2669,1047)">
<rect class="box" width="180" height="300"/><rect class="hd" width="180" height="30"/>
<line class="hs" x1="0" y1="30" x2="180" y2="30"/><line class="ps" x1="0" y1="60" x2="180" y2="60"/><line class="cd" x1="30" y1="30" x2="30" y2="300"/>
<text class="t" x="90" y="19">Quiz Attempt</text><text class="pk" x="15" y="49">PK</text><text class="id" x="37" y="49">id</text>
<text class="f" x="37" y="79">attempt_number</text><text class="f" x="37" y="109">started_at</text><text class="f" x="37" y="139">submited_at</text><text class="f" x="37" y="169">status</text><text class="f" x="37" y="199">score</text><text class="f" x="37" y="229">total_points</text><text class="f" x="37" y="259">earned_points</text><text class="f" x="37" y="289">passed</text>
</g>

<g id="question-skill" class="b" transform="translate(2862,1506)">
<rect class="box" width="180" height="90"/><rect class="hd" width="180" height="30"/>
<line class="hs" x1="0" y1="30" x2="180" y2="30"/><line class="ps" x1="0" y1="60" x2="180" y2="60"/><line class="cd" x1="30" y1="30" x2="30" y2="90"/>
<text class="t" x="90" y="19">Question Skill</text><text class="pk" x="15" y="49">PK</text><text class="id" x="37" y="49">id</text>
<text class="f" x="37" y="79">weight</text>
</g>

<g id="user-skill-snapshot" class="b" transform="translate(2689,1655)">
<rect class="box" width="180" height="240"/><rect class="hd" width="180" height="30"/>
<rect class="hr" x="30" y="180" width="150" height="30"/>
<line class="hs" x1="0" y1="30" x2="180" y2="30"/><line class="ps" x1="0" y1="60" x2="180" y2="60"/><line class="cd" x1="30" y1="30" x2="30" y2="240"/>
<text class="t" x="90" y="19">User Skill Snapshot</text><text class="pk" x="15" y="49">PK</text><text class="id" x="37" y="49">id</text>
<text class="f" x="37" y="79">proficiency_at_time</text><text class="f" x="37" y="109">proficiency_score_at_time</text><text class="f" x="37" y="139">new_proficiency</text><text class="f" x="37" y="169">new_proficiency_score</text><text class="f" x="37" y="199">snapshot_type</text><text class="f" x="37" y="229">created_at</text>
</g>

<g id="certificate" class="b" transform="translate(2458,2000)">
<rect class="box" width="180" height="150"/><rect class="hd" width="180" height="30"/>
<line class="hs" x1="0" y1="30" x2="180" y2="30"/><line class="ps" x1="0" y1="60" x2="180" y2="60"/><line class="cd" x1="30" y1="30" x2="30" y2="150"/>
<text class="t" x="90" y="19">Certificate</text><text class="pk" x="15" y="49">PK</text><text class="id" x="37" y="49">id</text>
<text class="f" x="37" y="79">issue_date</text><text class="f" x="37" y="109">pdf_url</text><text class="f" x="37" y="139">certificate_number</text>
</g>
</svg>
